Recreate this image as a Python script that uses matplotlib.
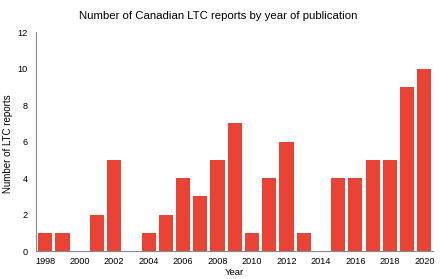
import matplotlib
matplotlib.use('Agg')
import matplotlib.pyplot as plt

years = list(range(1998, 2021))
reports = [1, 1, 0, 2, 5, 0, 1, 2, 4, 3, 5, 7, 1, 4, 6, 1, 0, 4, 4, 5, 5, 9, 10]
tick_years = [y for y in years if y % 2 == 0]

plt.rcParams['font.family'] = ['Liberation Sans', 'DejaVu Sans']

fig = plt.figure(figsize=(4.4, 2.79), dpi=100)
ax = fig.add_axes([0.082, 0.100, 0.902, 0.785])

pos = list(range(len(years)))
ax.bar(pos, reports, width=0.82, color='#EA4335', edgecolor='none')

ax.set_xticks([years.index(y) for y in tick_years])
ax.set_xticklabels([str(y) for y in tick_years])
ax.set_xlim(-0.53, 22.5)
ax.set_ylim(0, 12)
ax.set_yticks(range(0, 13, 2))
ax.tick_params(axis='x', length=0, labelsize=6.6, pad=4)
ax.tick_params(axis='y', length=0, labelsize=6.6, pad=6)

for s in ['top', 'right']:
    ax.spines[s].set_visible(False)
for s in ['left', 'bottom']:
    ax.spines[s].set_color('#888888')
    ax.spines[s].set_linewidth(0.8)

ax.set_xlabel('Year', fontsize=6.8, labelpad=2)
ax.set_ylabel('Number of LTC reports', fontsize=7)
ax.yaxis.set_label_coords(-0.058, 0.49)
fig.text(0.497, 0.943, 'Number of Canadian LTC reports by year of publication',
         fontsize=8.2, ha='center', va='center')

fig.savefig('out.png', dpi=100)
